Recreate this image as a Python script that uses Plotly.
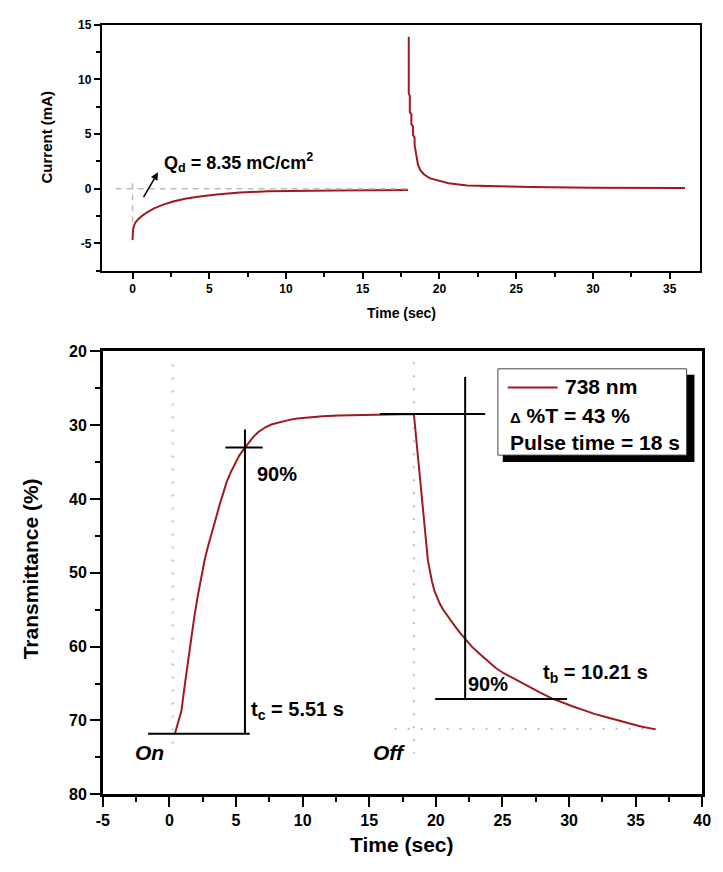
import plotly.graph_objects as go

# ---------------- data ----------------
# Chronoamperometry: colouring step (0-18 s) and bleaching step (18-36 s)
time_color_s = [0.0, 0.01, 0.03, 0.08, 0.18, 0.34, 0.6, 0.95, 1.4, 2.0, 2.7, 3.5,
                4.5, 5.65, 7.0, 8.8, 11.0, 13.1, 15.5, 17.95]
current_color_mA = [-4.7, -4.2, -3.75, -3.45, -3.1, -2.83, -2.5, -2.15, -1.8, -1.45,
                    -1.15, -0.9, -0.68, -0.5, -0.35, -0.24, -0.18, -0.15, -0.13, -0.12]
time_bleach_s = [18.0, 18.0, 18.07, 18.07, 18.17, 18.17, 18.28, 18.28, 18.38, 18.38,
                 18.49, 18.6, 18.75, 19.0, 19.4, 19.9, 20.6, 21.8, 23.5, 26.0, 30.0, 36.0]
current_bleach_mA = [13.9, 8.7, 8.5, 7.0, 6.8, 5.9, 5.7, 4.9, 4.7, 4.0, 3.1, 2.2, 1.7,
                     1.3, 0.95, 0.75, 0.5, 0.3, 0.22, 0.16, 0.1, 0.06]

# Reference guides in the current panel (time, current)
zero_guide_t = [-1.1, 18.0]
zero_guide_i = [0, 0]
start_guide_t = [0, 0]
start_guide_i = [0.5, -3.1]
charge_label = "Q<sub>d</sub> = 8.35 mC/cm<sup>2</sup>"

# Tick labels
current_ticks = [-5, 0, 5, 10, 15]
current_tick_text = ["-5", "0", "5", "10", "15"]
time_ticks_top = [0, 5, 10, 15, 20, 25, 30, 35]
time_ticks_bottom = [-5, 0, 5, 10, 15, 20, 25, 30, 35, 40]
time_tick_text_bottom = ["-5", "0", "5", "10", "15", "20", "25", "30", "35", "40"]
transmittance_ticks = [20, 30, 40, 50, 60, 70, 80]

# In-situ transmittance at 738 nm
time_T_s = [0.41, 0.9, 1.15, 1.39, 1.63, 1.88, 2.15, 2.4, 2.65, 2.9, 3.1, 3.35,
            3.55, 3.8, 4.05, 4.3, 4.6, 4.9, 5.25, 5.67, 6.0, 6.3, 6.7, 7.2, 7.7,
            8.3, 9.0, 9.6, 10.5, 11.5, 12.7, 14.0, 16.0, 18.35,
            19.4, 19.55, 19.7, 19.9, 20.1, 20.3, 20.55, 20.85, 21.15, 21.5, 21.85,
            22.2, 22.7, 23.3, 23.9, 24.5, 25.1, 25.7, 26.3, 26.95, 27.8, 28.7, 29.5,
            30.3, 31.1, 31.9, 33.1, 34.3, 35.4, 36.5]
transmittance_pct = [71.8, 68.7, 65.2, 62.0, 58.8, 55.8, 52.9, 50.3, 48.2, 46.4,
                     45.0, 43.6, 42.2, 40.6, 39.1, 37.7, 36.4, 35.3, 34.1, 33.05,
                     32.2, 31.6, 30.9, 30.3, 29.9, 29.6, 29.3, 29.1, 28.95, 28.8, 28.7,
                     28.65, 28.55, 28.5,
                     48.3, 49.8, 51.1, 52.5, 53.4, 54.2, 55.0, 55.8, 56.6, 57.4, 58.2,
                     58.9, 60.0, 61.0, 62.0, 62.9, 63.6, 64.2, 64.8, 65.4, 66.2, 67.0,
                     67.6, 68.1, 68.6, 69.1, 69.7, 70.3, 70.8, 71.2]

# Response-time construction (time s, transmittance %)
t_on, t_off = 0.24, 18.35
tc_time, tb_time = 5.67, 22.2
on_base = ([-1.6, 6.03], [71.8, 71.8])
tc_vertical = ([tc_time, tc_time], [30.6, 71.8])
tc_cross = ([4.2, 7.0], [33.05, 33.05])
off_top = ([15.8, 23.7], [28.5, 28.5])
tb_vertical = ([tb_time, tb_time], [23.5, 67.1])
tb_cross = ([19.95, 29.85], [67.1, 67.1])
on_marker = ([t_on, t_on], [21.8, 73.5])
off_marker = ([t_off, t_off], [21.5, 74.5])
bleached_level = ([16.9, 36.5], [71.1, 71.1])

legend_lines = ["738 nm",
                "<span style='font-size:15px'>\u0394</span> %T = 43 %",
                "Pulse time = 18 s"]

# ---------------- styling ----------------
W, H = 723, 872
RED = "#9E1A1F"
GREY = "#BDBDBD"
FONT = "Liberation Sans, Arial, sans-serif"


def px(x):
    return x / W


def py(y):
    return 1 - y / H


fig = go.Figure()

# current panel
fig.add_trace(go.Scatter(x=time_color_s, y=current_color_mA, mode="lines",
                         line=dict(color=RED, width=2), xaxis="x", yaxis="y",
                         showlegend=False))
fig.add_trace(go.Scatter(x=time_bleach_s, y=current_bleach_mA, mode="lines",
                         line=dict(color=RED, width=2), xaxis="x", yaxis="y",
                         showlegend=False))
for gx, gy in [(zero_guide_t, zero_guide_i), (start_guide_t, start_guide_i)]:
    fig.add_trace(go.Scatter(x=gx, y=gy, mode="lines",
                             line=dict(color=GREY, width=1.5, dash="6px,5px"),
                             xaxis="x", yaxis="y", showlegend=False))

# transmittance panel: dotted guides first
for gx, gy in [on_marker, off_marker, bleached_level]:
    fig.add_trace(go.Scatter(x=gx, y=gy, mode="lines",
                             line=dict(color=GREY, width=2, dash="2px,11px"),
                             xaxis="x2", yaxis="y2", showlegend=False))
fig.add_trace(go.Scatter(x=time_T_s, y=transmittance_pct, mode="lines",
                         name="738 nm",
                         line=dict(color=RED, width=2),
                         xaxis="x2", yaxis="y2", showlegend=False))
for gx, gy in [on_base, tc_vertical, tc_cross, off_top, tb_vertical, tb_cross]:
    fig.add_trace(go.Scatter(x=gx, y=gy, mode="lines",
                             line=dict(color="black", width=2),
                             xaxis="x2", yaxis="y2", showlegend=False))

axis_common = dict(showline=True, linecolor="black", mirror=True, showgrid=False,
                   zeroline=False, ticks="outside", tickcolor="black")


def minor(step, length, width):
    return dict(ticks="outside", tickmode="linear", tick0=0, dtick=step,
                ticklen=length, tickwidth=width, tickcolor="black")


fig.update_layout(
    width=W, height=H,
    margin=dict(l=0, r=0, t=0, b=0),
    paper_bgcolor="white", plot_bgcolor="white",
    font=dict(family=FONT, color="black"),
    xaxis=dict(domain=[px(97), px(709)], range=[-2, 37], anchor="y",
               tickmode="array", tickvals=time_ticks_top,
               ticktext=[str(v) for v in time_ticks_top],
               ticklen=6, tickwidth=1.5, linewidth=2, minor=minor(2.5, 4, 1.5),
               tickfont=dict(size=12, weight="bold"), **axis_common),
    yaxis=dict(domain=[py(268), py(17)], range=[-7.5, 15], anchor="x",
               tickmode="array", tickvals=current_ticks, ticktext=current_tick_text,
               ticklen=6, tickwidth=1.5, linewidth=2, minor=minor(2.5, 4, 1.5),
               tickfont=dict(size=12, weight="bold"), **axis_common),
    xaxis2=dict(domain=[px(98), px(711)], range=[-5, 40], anchor="y2",
                tickmode="array", tickvals=time_ticks_bottom,
                ticktext=time_tick_text_bottom,
                ticklen=10, tickwidth=2, linewidth=2.5, minor=minor(2.5, 5, 2),
                tickfont=dict(size=16, weight="bold"), **axis_common),
    yaxis2=dict(domain=[py(802), py(350)], range=[80, 20], anchor="x2",
                tickmode="array", tickvals=transmittance_ticks,
                ticktext=[str(v) for v in transmittance_ticks],
                ticklen=10, tickwidth=2, linewidth=2.5, minor=minor(5, 5, 2),
                tickfont=dict(size=16, weight="bold"), **axis_common),
)

centre = dict(xref="paper", yref="paper", showarrow=False,
              xanchor="center", yanchor="middle")
ann = []
# axis titles
ann.append(dict(text="Time (sec)", x=px(403), y=py(311),
                font=dict(size=14, weight="bold"), **centre))
ann.append(dict(text="Current (mA)", x=px(40), y=py(132), textangle=-90,
                font=dict(size=15, weight="bold"), **centre))
ann.append(dict(text="Time (sec)", x=px(404), y=py(853),
                font=dict(size=21, weight="bold"), **centre))
ann.append(dict(text="Transmittance (%)", x=px(24), y=py(572), textangle=-90,
                font=dict(size=21, weight="bold"), **centre))

# current panel labels
ann.append(dict(text=charge_label, x=1.9, y=2.4, xref="x", yref="y",
                xanchor="left", yanchor="middle", showarrow=False,
                font=dict(size=18, weight="bold")))
ann.append(dict(text="", x=1.66, y=1.5, ax=0.66, ay=-0.9, xref="x", yref="y",
                axref="x", ayref="y", showarrow=True, arrowhead=2, arrowsize=1,
                arrowwidth=1.5, arrowcolor="black"))

# transmittance panel labels
lab = dict(xref="x2", yref="y2", showarrow=False, yanchor="middle")
ann.append(dict(text="90%", x=6.4, y=36.6, xanchor="left",
                font=dict(size=20, weight="bold"), **lab))
ann.append(dict(text="t<sub>c</sub> = 5.51 s", x=6.0, y=68.6, xanchor="left",
                font=dict(size=20, weight="bold"), **lab))
ann.append(dict(text="<i>On</i>", x=-1.47, y=74.4, xanchor="center",
                font=dict(size=21, weight="bold"), **lab))
ann.append(dict(text="<i>Off</i>", x=16.5, y=74.4, xanchor="center",
                font=dict(size=21, weight="bold"), **lab))
ann.append(dict(text="90%", x=22.3, y=65.1, xanchor="left",
                font=dict(size=20, weight="bold"), **lab))
ann.append(dict(text="t<sub>b</sub> = 10.21 s", x=27.9, y=63.7, xanchor="left",
                font=dict(size=20, weight="bold"), **lab))

# legend box text
for txt, (lx, ly) in zip(legend_lines, [(569, 386), (512, 416), (512, 443)]):
    ann.append(dict(text=txt, x=px(lx), y=py(ly), xref="paper", yref="paper",
                    xanchor="left", yanchor="middle", showarrow=False,
                    font=dict(size=21, weight="bold")))

fig.update_layout(annotations=ann)

# legend frame with drop shadow and line sample
fig.update_layout(shapes=[
    dict(type="rect", xref="paper", yref="paper", x0=px(507), x1=px(703),
         y0=py(463), y1=py(374), fillcolor="black", line=dict(width=0)),
    dict(type="rect", xref="paper", yref="paper", x0=px(502), x1=px(695),
         y0=py(456), y1=py(368), fillcolor="white",
         line=dict(color="#444444", width=1)),
    dict(type="line", xref="paper", yref="paper", x0=px(512), x1=px(563),
         y0=py(387), y1=py(387), line=dict(color=RED, width=2)),
])

fig.write_html("out.html")
